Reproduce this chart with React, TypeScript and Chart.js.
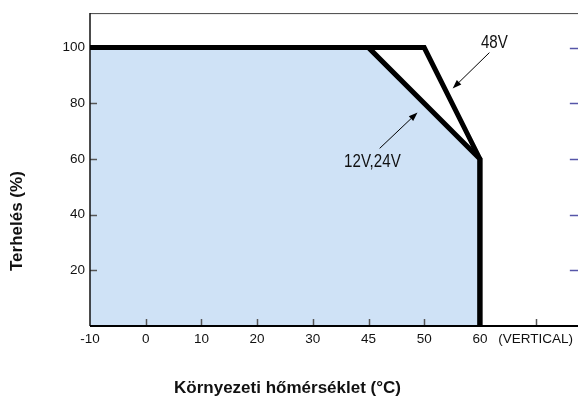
import React, { useEffect, useRef } from 'react';
import { Chart, registerables } from 'chart.js';

Chart.register(...registerables);

// ---- data ----
const tempLabels = ['-10', '0', '10', '20', '30', '45', '50', '60', '(VERTICAL)'];
const loadTicks = [20, 40, 60, 80, 100];
const temps1224 = ['-10', '45', '60', '60'];
const load1224 = [100, 100, 60, 0];
const temps48 = ['-10', '50', '60', '60'];
const load48 = [100, 100, 60, 0];
const name1224 = '12V,24V';
const name48 = '48V';
const xTitle = 'Környezeti hőmérséklet (°C)';
const yTitle = 'Terhelés (%)';
// annotations in data units: x = category position, y = load %
const label48At = [7.26, 101.6];
const arrow48 = [7.17, 98.2, 6.51, 85.3];
const label1224At = [5.07, 58.8];
const arrow1224 = [5.2, 63.8, 5.88, 76.7];

const X_MAX = 8.74;
const Y_MAX = 112.4;

function drawArrow(ctx: CanvasRenderingContext2D, x1: number, y1: number, x2: number, y2: number) {
  const ang = Math.atan2(y2 - y1, x2 - x1);
  const len = 9;
  const hw = 3.2;
  const bx = x2 - len * Math.cos(ang);
  const by = y2 - len * Math.sin(ang);
  ctx.beginPath();
  ctx.moveTo(x1, y1);
  ctx.lineTo(bx, by);
  ctx.stroke();
  ctx.beginPath();
  ctx.moveTo(x2, y2);
  ctx.lineTo(bx + hw * Math.sin(ang), by - hw * Math.cos(ang));
  ctx.lineTo(bx - hw * Math.sin(ang), by + hw * Math.cos(ang));
  ctx.closePath();
  ctx.fill();
}

const decor = {
  id: 'decor',
  beforeDatasetsDraw(chart: any) {
    const { ctx, chartArea: a, scales } = chart;
    const x = scales.x;
    const y = scales.y;
    ctx.save();
    // top frame
    ctx.strokeStyle = '#444';
    ctx.lineWidth = 1;
    ctx.beginPath();
    ctx.moveTo(a.left, a.top + 0.5);
    ctx.lineTo(a.right + 2, a.top + 0.5);
    ctx.stroke();
    // inward tick marks
    ctx.strokeStyle = '#555';
    ctx.lineWidth = 1.5;
    tempLabels.forEach((_, i) => {
      if (i === 0) return;
      const px = Math.round(x.getPixelForValue(i)) + 0.5;
      ctx.beginPath();
      ctx.moveTo(px, a.bottom);
      ctx.lineTo(px, a.bottom - 7);
      ctx.stroke();
    });
    loadTicks.forEach((v) => {
      const py = Math.round(y.getPixelForValue(v)) + 0.5;
      ctx.beginPath();
      ctx.moveTo(a.left, py);
      ctx.lineTo(a.left + 7, py);
      ctx.stroke();
    });
    // right-side marks
    ctx.strokeStyle = '#5656a8';
    ctx.lineWidth = 1.5;
    loadTicks.forEach((v) => {
      const py = Math.round(y.getPixelForValue(v)) + 0.5;
      ctx.beginPath();
      ctx.moveTo(a.right - 7, py);
      ctx.lineTo(a.right + 2, py);
      ctx.stroke();
    });
    // axis lines
    ctx.strokeStyle = '#111';
    ctx.lineWidth = 1.5;
    ctx.beginPath();
    ctx.moveTo(a.left, a.top);
    ctx.lineTo(a.left, a.bottom);
    ctx.stroke();
    ctx.strokeStyle = '#000';
    ctx.lineWidth = 2;
    ctx.beginPath();
    ctx.moveTo(a.left, a.bottom);
    ctx.lineTo(a.right + 2, a.bottom);
    ctx.stroke();
    ctx.restore();
  },
  afterDatasetsDraw(chart: any) {
    const { ctx, scales } = chart;
    const x = scales.x;
    const y = scales.y;
    ctx.save();
    ctx.strokeStyle = '#000';
    ctx.fillStyle = '#000';
    ctx.lineWidth = 1;
    const P = (vx: number, vy: number) => [x.getPixelForValue(vx), y.getPixelForValue(vy)];
    const [a1, a2] = P(arrow48[0], arrow48[1]);
    const [a3, a4] = P(arrow48[2], arrow48[3]);
    drawArrow(ctx, a1, a2, a3, a4);
    const [b1, b2] = P(arrow1224[0], arrow1224[1]);
    const [b3, b4] = P(arrow1224[2], arrow1224[3]);
    drawArrow(ctx, b1, b2, b3, b4);
    const labels: [string, number[]][] = [
      [name48, label48At],
      [name1224, label1224At],
    ];
    labels.forEach(([t, at]) => {
      const [px, py] = P(at[0], at[1]);
      ctx.save();
      ctx.translate(px, py);
      ctx.scale(0.84, 1);
      ctx.font = '18px "Liberation Sans", Arial, sans-serif';
      ctx.textAlign = 'center';
      ctx.textBaseline = 'middle';
      ctx.fillStyle = '#111';
      ctx.fillText(t, 0, 0);
      ctx.restore();
    });
    ctx.restore();
  },
  afterDraw(chart: any) {
    const { ctx, chartArea: a } = chart;
    ctx.save();
    ctx.fillStyle = '#111';
    ctx.font = 'bold 17px "Liberation Sans", Arial, sans-serif';
    ctx.textAlign = 'center';
    ctx.textBaseline = 'middle';
    ctx.fillText(xTitle, a.left + 197.5, a.bottom + 62);
    ctx.translate(a.left - 73, a.top + 208);
    ctx.rotate(-Math.PI / 2);
    ctx.fillText(yTitle, 0, 0);
    ctx.restore();
  },
};

export default function App() {
  const ref = useRef<HTMLCanvasElement | null>(null);
  useEffect(() => {
    if (!ref.current) return;
    Chart.defaults.font.family = '"Liberation Sans", Arial, sans-serif';
    const chart = new Chart(ref.current, {
      type: 'line',
      data: {
        datasets: [
          {
            label: name1224,
            data: temps1224.map((t, i) => ({ x: tempLabels.indexOf(t), y: load1224[i] })),
            borderColor: '#000',
            borderWidth: 5,
            borderJoinStyle: 'miter',
            borderCapStyle: 'butt',
            backgroundColor: 'rgb(207,226,246)',
            fill: 'origin',
            pointRadius: 0,
            tension: 0,
          },
          {
            label: name48,
            data: temps48.map((t, i) => ({ x: tempLabels.indexOf(t), y: load48[i] })),
            borderColor: '#000',
            borderWidth: 5,
            borderJoinStyle: 'miter',
            borderCapStyle: 'butt',
            fill: false,
            pointRadius: 0,
            tension: 0,
          },
        ],
      },
      options: {
        responsive: false,
        animation: false,
        devicePixelRatio: 1,
        layout: { padding: { top: 12, left: 0, right: 0, bottom: 0 } },
        plugins: {
          legend: { display: false },
          tooltip: { enabled: false },
          filler: { drawTime: 'beforeDatasetsDraw' },
        },
        scales: {
          x: {
            type: 'linear',
            min: 0,
            max: X_MAX,
            border: { display: false },
            grid: { display: false, drawTicks: false },
            afterBuildTicks: (s: any) => {
              s.ticks = tempLabels.map((_, i) => ({ value: i }));
            },
            afterFit: (s: any) => {
              s.height = 77;
            },
            ticks: {
              autoSkip: false,
              maxRotation: 0,
              padding: 5,
              color: '#111',
              font: { size: 13.5 },
              callback: (v: any) => tempLabels[Math.round(Number(v))] ?? '',
            },
          },
          y: {
            type: 'linear',
            min: 0,
            max: Y_MAX,
            border: { display: false },
            grid: { display: false, drawTicks: false },
            afterBuildTicks: (s: any) => {
              s.ticks = loadTicks.map((v) => ({ value: v }));
            },
            afterFit: (s: any) => {
              s.width = 90;
            },
            ticks: {
              padding: 5,
              color: '#111',
              font: { size: 13.5 },
              callback: (v: any) => String(v),
            },
          },
        },
      } as any,
      plugins: [decor],
    });
    return () => chart.destroy();
  }, []);
  return (
    <div style={{ position: 'fixed', left: 0, top: 0, width: 578, height: 403, overflow: 'hidden', background: '#fff' }}>
      <canvas ref={ref} width={578} height={403} style={{ display: 'block' }} />
    </div>
  );
}
